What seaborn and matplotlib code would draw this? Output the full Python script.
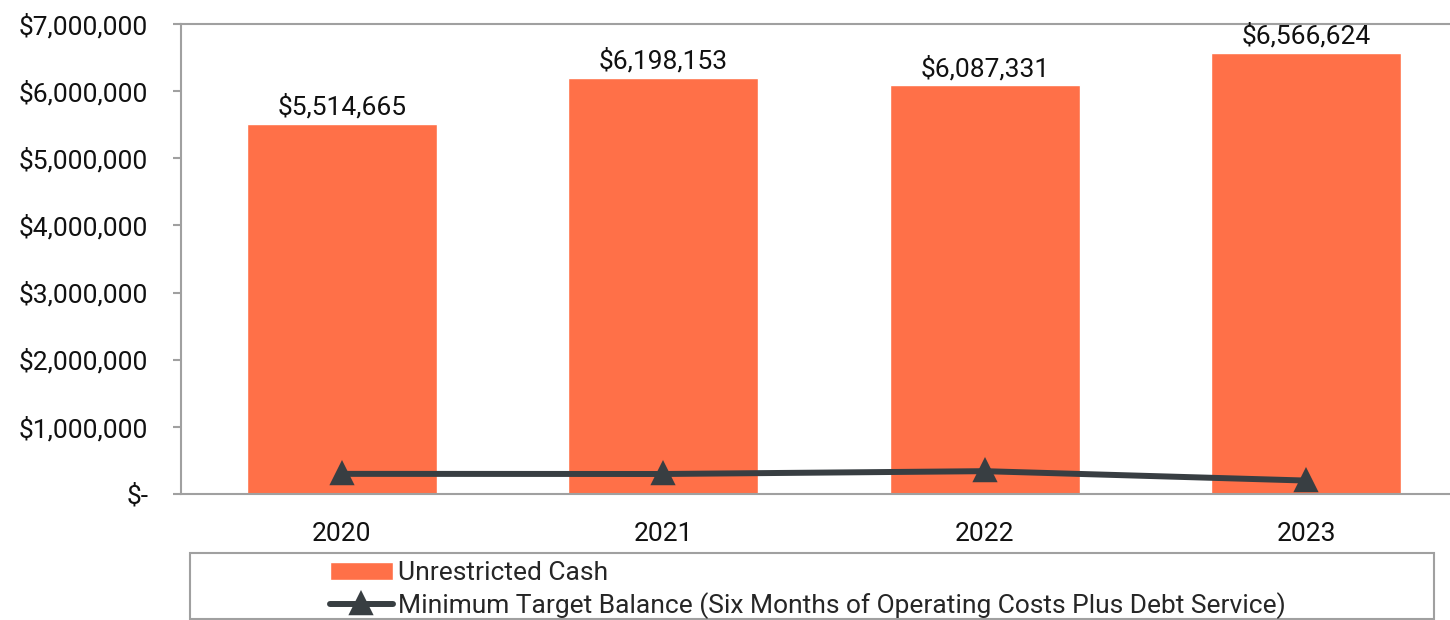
import matplotlib
matplotlib.use("Agg")
import matplotlib.pyplot as plt
from matplotlib.ticker import FuncFormatter, FixedLocator
from matplotlib.patches import Rectangle
import seaborn as sns
import numpy as np

years = ["2020", "2021", "2022", "2023"]
unrestricted_cash = [5514665, 6198153, 6087331, 6566624]
min_target = [300000, 298000, 340000, 200000]
bar_label_name = "Unrestricted Cash"
line_label_name = "Minimum Target Balance (Six Months of Operating Costs Plus Debt Service)"

sns.set_theme(style="white")
plt.rcParams['font.family'] = ['Roboto', 'DejaVu Sans']

BAR_COLOR = "#FF7048"
LINE_COLOR = "#383E42"
AXIS_COLOR = "#A0A0A0"
FS = 19

fig = plt.figure(figsize=(14.5, 6.2), dpi=100)
ax = fig.add_axes([181/1450, (620-494)/620, (1467-181)/1450, (494-24)/620])

sns.barplot(x=years, y=unrestricted_cash, color=BAR_COLOR, width=0.59,
            saturation=1, ax=ax, label=bar_label_name, zorder=2)
sns.pointplot(x=years, y=min_target, color=LINE_COLOR, markers="^",
              markersize=13, linewidth=4.3, errorbar=None, ax=ax,
              label=line_label_name, zorder=3)

for cont in ax.containers:
    if hasattr(cont, "patches"):
        ax.bar_label(cont, labels=[f"${v:,.0f}" for v in unrestricted_cash],
                     padding=3, fontsize=FS, color="#111111")

ax.set_xlim(-0.5, 3.5)
ax.set_ylim(0, 7000000)
ax.yaxis.set_major_locator(FixedLocator(np.arange(0, 7000001, 1000000)))
ax.yaxis.set_major_formatter(FuncFormatter(lambda v, p: "$-" if v == 0 else f"${v:,.0f}"))
ax.set_xticks(range(len(years)))
ax.set_xticklabels(years)
ax.set_xticks([-0.5, 0.5, 1.5, 2.5, 3.5], minor=True)
ax.tick_params(axis="x", which="major", length=0, pad=20, labelsize=FS, labelcolor="#111111")
ax.tick_params(axis="x", which="minor", length=5.5, width=1.5, color=AXIS_COLOR, direction="out")
ax.tick_params(axis="y", which="major", length=5.5, width=1.5, color=AXIS_COLOR, direction="out",
               pad=18, labelsize=FS, labelcolor="#111111", left=True)
ax.set_xlabel("")
ax.set_ylabel("")
for side in ["left", "bottom", "top"]:
    ax.spines[side].set_visible(True)
    ax.spines[side].set_color(AXIS_COLOR)
    ax.spines[side].set_linewidth(1.5)
ax.spines["right"].set_visible(False)

leg = ax.get_legend()
if leg is not None:
    leg.remove()
handles, labels = ax.get_legend_handles_labels()
order = [labels.index(bar_label_name), labels.index(line_label_name)]
handles = [handles[i] for i in order]
labels = [labels[i] for i in order]
fig.legend(handles, labels, loc="center", bbox_to_anchor=(808/1450, 1-590/620),
           frameon=False, fontsize=FS, handlelength=2.4, handletextpad=0.2,
           labelspacing=0.25, borderpad=0, borderaxespad=0)
fig.patches.append(Rectangle((190/1450, 1-619/620), (1434-190)/1450, (619-553)/620,
                             transform=fig.transFigure, fill=False,
                             edgecolor=AXIS_COLOR, linewidth=1.5))

fig.savefig("out.png", dpi=100)
